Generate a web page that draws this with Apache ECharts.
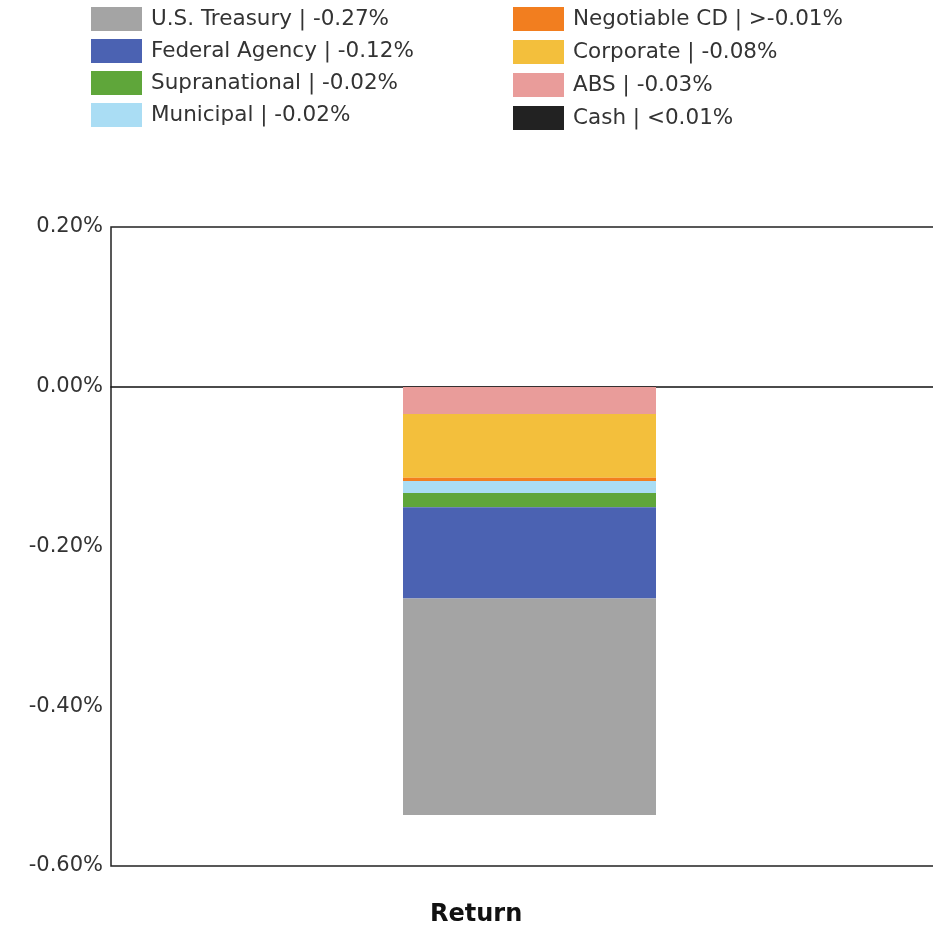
<!DOCTYPE html>
<html>
<head>
<meta charset="utf-8">
<script src="https://cdn.jsdelivr.net/npm/echarts@6/dist/echarts.min.js"></script>
<style>
    html, body { margin: 0; padding: 0; background: #fff; }
    #chart { width: 933px; height: 929px; }
</style>
</head>
<body>
<div id="chart"></div>
<script>
// stack order: first series sits next to zero
var sectors = ['ABS', 'Corporate', 'Negotiable CD', 'Municipal', 'Supranational', 'Federal Agency', 'U.S. Treasury', 'Cash'];
var returns = [-0.034, -0.080, -0.004, -0.015, -0.018, -0.114, -0.271, 0.001];
var legendText = ['-0.03%', '-0.08%', '>-0.01%', '-0.02%', '-0.02%', '-0.12%', '-0.27%', '<0.01%'];
var colors = ['#E99C9A', '#F3BF3C', '#F27E1F', '#AADDF4', '#5FA63A', '#4B62B2', '#A4A4A4', '#222222'];
var categories = ['Return'];
var yTicks = { min: -0.6, max: 0.2, interval: 0.2 };

var leftLegend = ['U.S. Treasury', 'Federal Agency', 'Supranational', 'Municipal'];
var rightLegend = ['Negotiable CD', 'Corporate', 'ABS', 'Cash'];

var chart = echarts.init(document.getElementById('chart'));

function legendLabel(name) {
    return name + ' | ' + legendText[sectors.indexOf(name)];
}

function makeLegend(names, left, gap) {
    return {
        orient: 'vertical',
        left: left,
        top: 7,
        padding: 0,
        itemWidth: 51,
        itemHeight: 24,
        itemGap: gap,
        icon: 'rect',
        data: names,
        formatter: legendLabel,
        textStyle: {
            fontFamily: 'DejaVu Sans',
            fontSize: 21.5,
            color: '#333',
            padding: [0, 0, 0, 4]
        }
    };
}

var series = sectors.map(function (name, i) {
    return {
        name: name,
        type: 'bar',
        stack: 'total',
        barWidth: 253,
        itemStyle: { color: colors[i] },
        data: [returns[i]]
    };
});

var option = {
    animation: false,
    color: colors,
    legend: [makeLegend(leftLegend, 91, 8), makeLegend(rightLegend, 513, 9)],
    grid: {
        left: 111,
        width: 837,
        top: 227,
        bottom: 63,
        outerBoundsMode: 'none',
        show: true,
        borderColor: '#222',
        borderWidth: 1.5,
        backgroundColor: '#fff'
    },
    xAxis: {
        type: 'category',
        data: categories,
        axisLine: { show: true, onZero: true, lineStyle: { color: '#111', width: 1.5 } },
        axisTick: { show: false },
        axisLabel: { show: false }
    },
    yAxis: {
        type: 'value',
        min: yTicks.min,
        max: yTicks.max,
        interval: yTicks.interval,
        axisLine: { show: false },
        axisTick: { show: false },
        splitLine: { show: false },
        axisLabel: {
            margin: 8,
            fontFamily: 'DejaVu Sans',
            fontSize: 21,
            color: '#333',
            formatter: function (v) { return v.toFixed(2) + '%'; }
        }
    },
    graphic: [{
        type: 'text',
        left: 430,
        top: 903,
        style: {
            text: categories[0],
            font: 'bold 24px "DejaVu Sans"',
            fill: '#111'
        }
    }],
    series: series
};

chart.setOption(option);
</script>
</body>
</html>
